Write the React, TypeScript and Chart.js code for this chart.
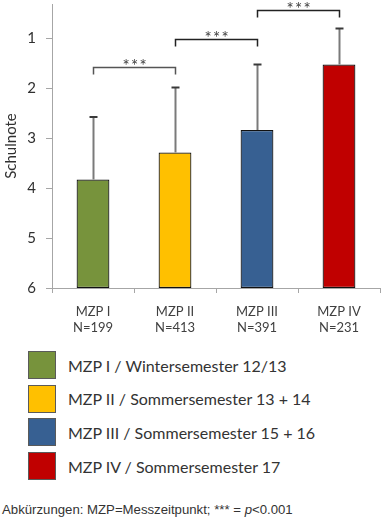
import React, { useEffect, useRef } from "react";
import { Chart, registerables } from "chart.js";

Chart.register(...registerables);

const categories = ["MZP I", "MZP II", "MZP III", "MZP IV"];
const sampleSizes = ["N=199", "N=413", "N=391", "N=231"];
const means = [3.83, 3.29, 2.84, 1.53];
const sds = [1.25, 1.3, 1.31, 0.72];
const colors = ["#77933C", "#FFC000", "#376092", "#C00000"];
const legendLabels = [
  "MZP I / Wintersemester 12/13",
  "MZP II / Sommersemester 13 + 14",
  "MZP III / Sommersemester 15 + 16",
  "MZP IV / Sommersemester 17",
];
const yTicks = [1, 2, 3, 4, 5, 6];
const bracketFrom = [0, 1, 2];
const bracketTo = [1, 2, 3];
const bracketLevel = [1.57, 1.01, 0.44];
const bracketLabel = ["***", "***", "***"];

const FONT = "Lato, 'Open Sans', sans-serif";

const overlay = {
  id: "overlay",
  afterDatasetsDraw(chart: any) {
    const ctx = chart.ctx;
    const xs = chart.scales.x;
    const ys = chart.scales.y;
    ctx.save();
    means.forEach((m, i) => {
      const cx = Math.round(xs.getPixelForValue(i)) + 0.5;
      const y0 = ys.getPixelForValue(m);
      const y1 = ys.getPixelForValue(m - sds[i]);
      ctx.strokeStyle = "#7a7a7a";
      ctx.lineWidth = 2;
      ctx.beginPath();
      ctx.moveTo(cx, y0);
      ctx.lineTo(cx, y1);
      ctx.stroke();
      ctx.strokeStyle = "#3a3a3a";
      ctx.beginPath();
      ctx.moveTo(cx - 4, y1);
      ctx.lineTo(cx + 4, y1);
      ctx.stroke();
    });
    bracketLevel.forEach((lv, i) => {
      const xa = Math.round(xs.getPixelForValue(bracketFrom[i])) + 0.5;
      const xb = Math.round(xs.getPixelForValue(bracketTo[i])) + 0.5;
      const yy = Math.round(ys.getPixelForValue(lv)) + 0.5;
      ctx.strokeStyle = i === 0 ? "#555555" : "#222222";
      ctx.lineWidth = 1.5;
      ctx.beginPath();
      ctx.moveTo(xa, yy + 7);
      ctx.lineTo(xa, yy);
      ctx.lineTo(xb, yy);
      ctx.lineTo(xb, yy + 7);
      ctx.stroke();
      ctx.fillStyle = "#404040";
      ctx.font = "17px " + FONT;
      ctx.textAlign = "center";
      ctx.textBaseline = "alphabetic";
      const mid = (xa + xb) / 2;
      const chars = bracketLabel[i].split("");
      chars.forEach((c, k) => {
        ctx.fillText(c, mid + (k - (chars.length - 1) / 2) * 8.5, yy + 4);
      });
    });
    ctx.restore();
  },
};

export default function App() {
  const ref = useRef<HTMLCanvasElement>(null);
  useEffect(() => {
    if (!ref.current) return;
    const chart = new Chart(ref.current, {
      type: "bar",
      data: {
        labels: categories.map((c, i) => [c, sampleSizes[i]]),
        datasets: [
          {
            data: means.map((m) => [6, m]) as any,
            backgroundColor: colors,
            borderColor: "#111111",
            borderWidth: 1.2,
            borderSkipped: false,
            barPercentage: 0.4,
            categoryPercentage: 1,
          },
        ],
      },
      options: {
        animation: false,
        responsive: true,
        maintainAspectRatio: false,
        layout: { padding: { top: 4, right: 1, left: 0, bottom: 0 } },
        plugins: { legend: { display: false }, tooltip: { enabled: false } },
        scales: {
          x: {
            grid: {
              display: true,
              drawOnChartArea: false,
              offset: true,
              tickLength: 5,
              color: "#a6a6a6",
            },
            border: { color: "#a6a6a6", width: 1 },
            ticks: {
              color: "#404040",
              font: { family: FONT, size: 13 },
              padding: 11,
              maxRotation: 0,
            },
            afterFit: (s: any) => {
              s.height = 52;
              s.paddingLeft = 0;
              s.paddingRight = 0;
            },
          },
          y: {
            reverse: true,
            min: 0.32,
            max: 6,
            afterBuildTicks: (s: any) => {
              s.ticks = yTicks.map((v) => ({ value: v }));
            },
            grid: {
              display: true,
              drawOnChartArea: false,
              tickLength: 6,
              color: "#a6a6a6",
            },
            border: { color: "#a6a6a6", width: 1 },
            ticks: {
              color: "#303030",
              font: { family: FONT, size: 15 },
              padding: 10,
            },
            title: {
              display: true,
              text: "Schulnote",
              color: "#303030",
              font: { family: FONT, size: 15 },
              padding: { top: 2, bottom: 0 },
            },
            afterFit: (s: any) => {
              s.width = 52;
              s.paddingTop = 0;
              s.paddingBottom = 0;
            },
          },
        },
      },
      plugins: [overlay],
    });
    return () => chart.destroy();
  }, []);

  return (
    <div
      style={{
        position: "absolute",
        left: 0,
        top: 0,
        width: 381,
        height: 519,
        background: "#fff",
        overflow: "hidden",
      }}
    >
      <div style={{ position: "absolute", left: 0, top: 0, width: 381, height: 340 }}>
        <canvas ref={ref} />
      </div>
      {legendLabels.map((t, i) => (
        <div
          key={t}
          style={{
            position: "absolute",
            left: 28,
            top: 351 + i * 33.7,
            height: 28,
            display: "flex",
            alignItems: "center",
            whiteSpace: "nowrap",
          }}
        >
          <div
            style={{
              width: 26,
              height: 26,
              background: colors[i],
              border: "1px solid #5a5a5a",
            }}
          />
          <span
            style={{
              marginLeft: 12,
              fontFamily: FONT,
              fontSize: 16,
              color: "#333",
            }}
          >
            {t}
          </span>
        </div>
      ))}
      <div
        style={{
          position: "absolute",
          left: 2,
          top: 502,
          fontFamily: "'Liberation Sans', Arial, sans-serif",
          fontSize: 13.2,
          color: "#333",
          whiteSpace: "nowrap",
        }}
      >
        Abkürzungen: MZP=Messzeitpunkt; *** = <i>p</i>&lt;0.001
      </div>
    </div>
  );
}
